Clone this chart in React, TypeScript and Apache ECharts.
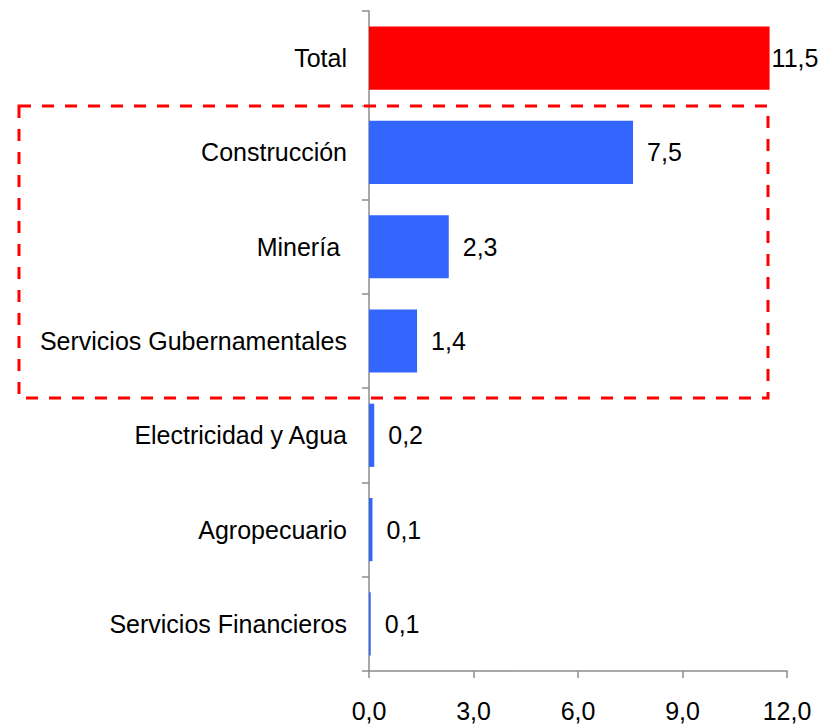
import React, { useEffect, useRef } from "react";
import * as echarts from "echarts";

const categories = [
  "Total",
  "Construcción",
  "Minería ",
  "Servicios Gubernamentales",
  "Electricidad y Agua",
  "Agropecuario",
  "Servicios Financieros",
];
const values = [11.5, 7.58, 2.29, 1.38, 0.15, 0.1, 0.05];
const valueLabels = ["11,5", "7,5", "2,3", "1,4", "0,2", "0,1", "0,1"];
const barColors = ["#FF0000", "#3366FF", "#3366FF", "#3366FF", "#3366FF", "#3366FF", "#3366FF"];
const xTicks = { min: 0, max: 12, interval: 3 };

const FONT = "'Liberation Sans', Arial, sans-serif";
const FS = 25;

export default function App() {
  const ref = useRef<HTMLDivElement>(null);
  useEffect(() => {
    if (!ref.current) return;
    const chart = echarts.init(ref.current, null, { renderer: "svg" });
    chart.setOption({
      animation: false,
      backgroundColor: "#FFFFFF",
      grid: { left: 369, right: 34, top: 11, bottom: 53, containLabel: false },
      xAxis: {
        type: "value",
        min: xTicks.min,
        max: xTicks.max,
        interval: xTicks.interval,
        splitLine: { show: false },
        axisLine: { show: true, lineStyle: { color: "#8C8C8C", width: 1.5 } },
        axisTick: { show: true, length: 7, lineStyle: { color: "#8C8C8C", width: 1.5 } },
        axisLabel: {
          margin: 27,
          color: "#000",
          fontSize: FS,
          fontFamily: FONT,
          formatter: (v: number) => v.toFixed(1).replace(".", ","),
        },
      },
      yAxis: {
        type: "category",
        inverse: true,
        data: categories,
        axisLine: { show: true, lineStyle: { color: "#8C8C8C", width: 1.5 } },
        axisTick: { show: true, length: 7, lineStyle: { color: "#8C8C8C", width: 1.5 } },
        axisLabel: {
          margin: 22,
          color: "#000",
          fontSize: FS,
          fontFamily: FONT,
          padding: [4, 0, 0, 0],
        },
      },
      series: [
        {
          type: "bar",
          barCategoryGap: "33%",
          data: values.map((v, i) => ({
            value: v,
            itemStyle: { color: barColors[i] },
            label: {
              show: true,
              position: "right",
              distance: i === 0 ? 2 : 14,
              formatter: () => valueLabels[i],
              color: "#000",
              fontSize: FS,
              fontFamily: FONT,
              padding: [4, 0, 0, 0],
            },
          })),
        },
      ],
      graphic: [
        {
          type: "rect",
          z: 100,
          shape: { x: 19, y: 106, width: 749, height: 292 },
          style: { fill: "none", stroke: "#FF0000", lineWidth: 3, lineDash: [12, 11] },
        },
      ],
    });
    return () => chart.dispose();
  }, []);
  return (
    <div
      ref={ref}
      style={{ position: "fixed", left: 0, top: 0, width: 821, height: 724 }}
    />
  );
}
